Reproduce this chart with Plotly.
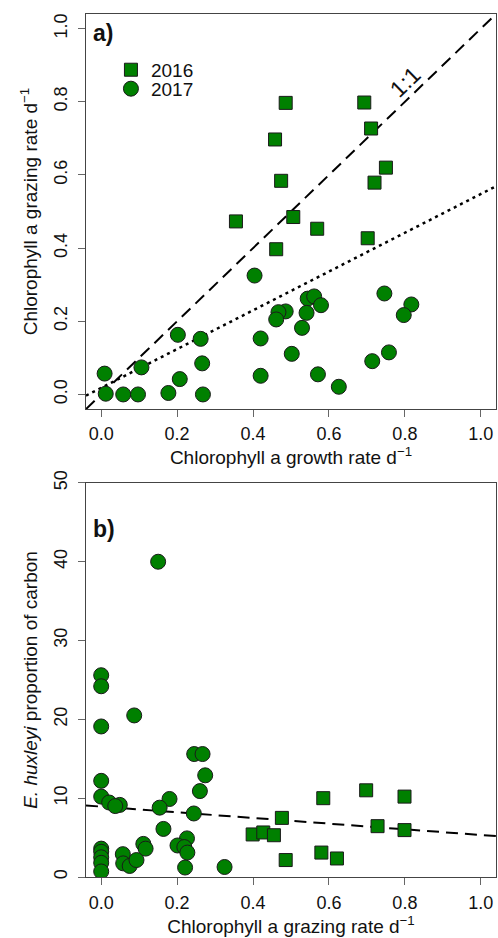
import plotly.graph_objects as go

# ---------------- data: panel a ----------------
growth_2016 = [0.486, 0.693, 0.711, 0.458, 0.750, 0.474, 0.720, 0.355, 0.506, 0.569, 0.702, 0.461]
grazing_2016 = [0.797, 0.798, 0.727, 0.697, 0.620, 0.584, 0.579, 0.473, 0.485, 0.453, 0.427, 0.397]

growth_2017 = [0.404, 0.746, 0.817, 0.797, 0.544, 0.561, 0.579, 0.541, 0.486, 0.467, 0.461, 0.529,
               0.202, 0.262, 0.420, 0.502, 0.758, 0.714, 0.106, 0.266, 0.009, 0.207, 0.420, 0.571,
               0.626, 0.012, 0.058, 0.097, 0.177, 0.268]
grazing_2017 = [0.325, 0.276, 0.246, 0.217, 0.262, 0.268, 0.244, 0.223, 0.227, 0.225, 0.205, 0.182,
                0.163, 0.152, 0.153, 0.111, 0.115, 0.091, 0.074, 0.085, 0.057, 0.042, 0.051, 0.055,
                0.021, 0.002, 0.000, 0.000, 0.004, 0.000]

fit_a_intercept = 0.018
fit_a_slope = 0.53

# ---------------- data: panel b ----------------
graz_b_2016 = [0.698, 0.585, 0.799, 0.476, 0.728, 0.799, 0.399, 0.427, 0.455, 0.580, 0.621, 0.486]
ehux_2016 = [11.0, 10.0, 10.2, 7.5, 6.45, 5.95, 5.4, 5.65, 5.3, 3.1, 2.35, 2.15]

graz_b_2017 = [0.150, 0.0, 0.0, 0.087, 0.0, 0.245, 0.267, 0.274, 0.260, 0.0, 0.0, 0.180,
               0.021, 0.049, 0.037, 0.154, 0.244, 0.164, 0.111, 0.117, 0.226, 0.201, 0.219,
               0.227, 0.221, 0.325, 0.0, 0.0, 0.0, 0.0, 0.0, 0.057, 0.058, 0.075, 0.093]
ehux_2017 = [40.0, 25.6, 24.2, 20.5, 19.1, 15.6, 15.6, 12.9, 10.9, 12.2, 10.2, 9.9,
             9.45, 9.15, 9.0, 8.8, 8.06, 6.1, 4.2, 3.6, 4.9, 4.0, 3.8,
             3.1, 1.2, 1.27, 3.6, 3.2, 2.5, 1.8, 0.7, 2.9, 1.73, 1.4, 2.15]

fit_b_intercept = 8.93
fit_b_slope = -3.6

x_ticks = [0.0, 0.2, 0.4, 0.6, 0.8, 1.0]
y_ticks_a = [0.0, 0.2, 0.4, 0.6, 0.8, 1.0]
y_ticks_b = [0, 10, 20, 30, 40, 50]
x_range = [-0.04, 1.04]

GREEN = "#008000"
FONT = "Liberation Sans, Arial, sans-serif"

fig = go.Figure()

sq = dict(symbol="square", size=13, color=GREEN, line=dict(color="#1a1a1a", width=1))
ci = dict(symbol="circle", size=15, color=GREEN, line=dict(color="#1a1a1a", width=1))

# panel a lines
fig.add_trace(go.Scatter(x=x_range, y=x_range, mode="lines", xaxis="x", yaxis="y",
                         line=dict(color="black", width=2, dash="12px,7px"), showlegend=False, hoverinfo="skip"))
fig.add_trace(go.Scatter(x=x_range, y=[fit_a_intercept + fit_a_slope * v for v in x_range], mode="lines",
                         xaxis="x", yaxis="y", line=dict(color="black", width=2.5, dash="3px,4px"),
                         showlegend=False, hoverinfo="skip"))
fig.add_trace(go.Scatter(x=growth_2016, y=grazing_2016, mode="markers", xaxis="x", yaxis="y",
                         marker=sq, name="2016", legend="legend"))
fig.add_trace(go.Scatter(x=growth_2017, y=grazing_2017, mode="markers", xaxis="x", yaxis="y",
                         marker=ci, name="2017", legend="legend2"))

# panel b
fig.add_trace(go.Scatter(x=x_range, y=[fit_b_intercept + fit_b_slope * v for v in x_range], mode="lines",
                         xaxis="x2", yaxis="y2", line=dict(color="black", width=2, dash="12px,7px"),
                         showlegend=False, hoverinfo="skip"))
fig.add_trace(go.Scatter(x=graz_b_2017, y=ehux_2017, mode="markers", xaxis="x2", yaxis="y2",
                         marker=ci, showlegend=False))
fig.add_trace(go.Scatter(x=graz_b_2016, y=ehux_2016, mode="markers", xaxis="x2", yaxis="y2",
                         marker=sq, showlegend=False))

axis_common = dict(showline=True, mirror=True, linecolor="#444", linewidth=1, ticks="outside",
                   ticklen=7, tickcolor="#666", tickwidth=1, showgrid=False, zeroline=False,
                   tickfont=dict(family=FONT, size=18, color="#111"))

top_dom = [(877 - 408) / 865, 1.0]
bot_dom = [0.0, (877 - 482) / 865]

fig.update_layout(
    width=498, height=938,
    margin=dict(l=86, r=1, t=12, b=61),
    paper_bgcolor="white", plot_bgcolor="white",
    font=dict(family=FONT, color="#111"),
    xaxis=dict(domain=[0, 1], anchor="y", range=x_range, tickvals=x_ticks, tickformat=".1f",
               ticklabelstandoff=1,
               title=dict(text="Chlorophyll a growth rate d<sup>\u22121</sup>", font=dict(size=19), standoff=0),
               **axis_common),
    yaxis=dict(domain=top_dom, anchor="x", range=x_range, tickvals=y_ticks_a, tickformat=".1f", tickangle=-90,
               ticklabelstandoff=4,
               title=dict(text="Chlorophyll a grazing rate d<sup>\u22121</sup>", font=dict(size=19), standoff=8),
               **axis_common),
    xaxis2=dict(domain=[0, 1], anchor="y2", range=x_range, tickvals=x_ticks, tickformat=".1f",
                ticklabelstandoff=2,
                title=dict(text="Chlorophyll a grazing rate d<sup>\u22121</sup>", font=dict(size=19), standoff=8),
                **axis_common),
    yaxis2=dict(domain=bot_dom, anchor="x2", range=[0, 50], tickvals=y_ticks_b, tickangle=-90,
                ticklabelstandoff=4,
                title=dict(text="<i>E. huxleyi</i> proportion of carbon", font=dict(size=19), standoff=8),
                **axis_common),
    legend=dict(x=(111 - 86) / 411, y=(938 - 61 - 68) / 865, xref="paper", yref="paper",
                xanchor="left", yanchor="middle", bgcolor="rgba(0,0,0,0)",
                font=dict(family=FONT, size=19, color="#111")),
    legend2=dict(x=(111 - 86) / 411, y=(938 - 61 - 87) / 865, xref="paper", yref="paper",
                 xanchor="left", yanchor="middle", bgcolor="rgba(0,0,0,0)",
                 font=dict(family=FONT, size=19, color="#111")),
    annotations=[
        dict(text="<b>a)</b>", xref="x domain", yref="y domain", x=0.012, y=0.99, xanchor="left",
             yanchor="top", showarrow=False, font=dict(family=FONT, size=23, color="#111")),
        dict(text="<b>b)</b>", xref="x2 domain", yref="y2 domain", x=0.012, y=0.92, xanchor="left",
             yanchor="top", showarrow=False, font=dict(family=FONT, size=23, color="#111")),
        dict(text="1:1", xref="x", yref="y", x=0.80, y=0.855, showarrow=False, textangle=-44,
             font=dict(family=FONT, size=23, color="#111")),
    ],
)

fig.write_html("out.html")
